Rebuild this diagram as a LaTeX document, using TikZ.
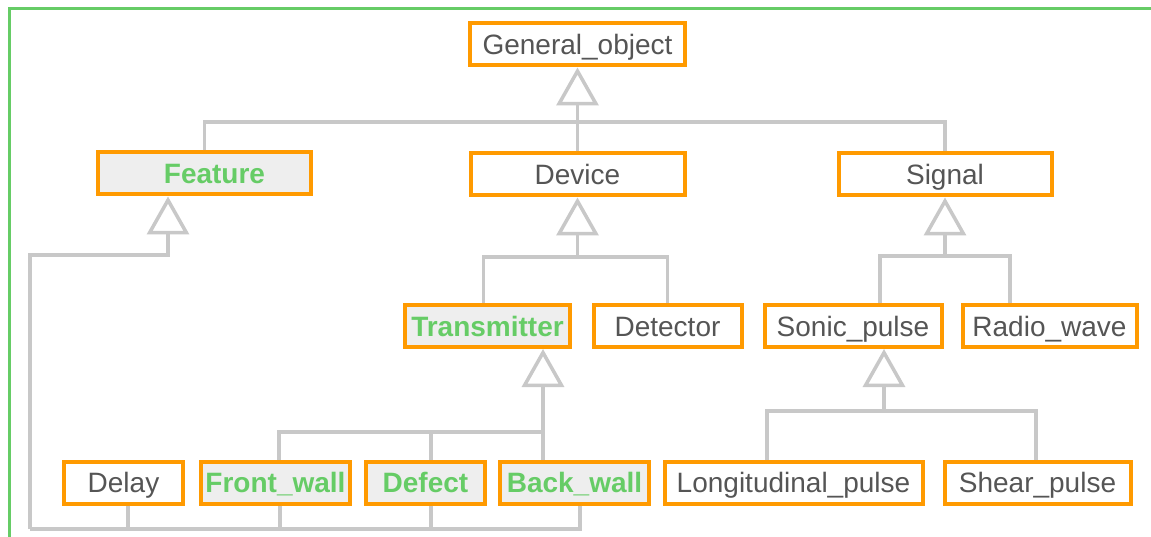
\documentclass[tikz,border=0pt]{standalone}
\usepackage{fontspec}
\setmainfont{Liberation Sans}
\usetikzlibrary{arrows.meta}
\definecolor{boxorange}{HTML}{FF9A00}
\definecolor{txtgray}{HTML}{555555}
\definecolor{featgreen}{HTML}{66CC66}
\definecolor{linegray}{HTML}{C8C8C8}
\definecolor{featfill}{HTML}{EEEEEE}
\definecolor{framegreen}{HTML}{66CC66}
\tikzset{
  cls/.style={draw=boxorange, line width=4pt, rectangle, inner sep=0pt,
    minimum height=42pt, fill=white, text=txtgray,
    font=\fontsize{28}{30}\selectfont, text height=20pt, text depth=0pt},
  feat/.style={cls, fill=featfill, text=featgreen, font=\fontsize{28}{30}\selectfont\bfseries},
  conn/.style={draw=linegray, line width=3.5pt},
  inh/.style={conn, -{Triangle[open, length=38pt, width=42pt, line join=miter]}},
}
\begin{document}
\begin{tikzpicture}[x=1pt, y=-1pt]
\useasboundingbox (0,0) rectangle (1151,537);
\fill[white] (0,0) rectangle (1151,537);
\draw[framegreen, line width=3pt] (9,540) -- (9,8.5) -- (1155,8.5);

% nodes
\node[cls, minimum width=215pt] (gen) at (577.5,44.5) {General\_object};
\node[feat, minimum width=213pt] (fea) at (204.5,173.5) {\hspace*{20pt}Feature};
\node[cls, minimum width=214pt] (dev) at (577.5,174.5) {Device};
\node[cls, minimum width=213pt] (sig) at (945,174.5) {Signal};
\node[feat, minimum width=165pt] (tra) at (487.5,326) {Transmitter};
\node[cls, minimum width=148pt] (det) at (667.5,326) {Detector};
\node[cls, minimum width=177pt] (son) at (853,326) {Sonic\_pulse};
\node[cls, minimum width=174pt] (rad) at (1049.5,326) {Radio\_wave};
\node[cls, minimum width=119pt] (del) at (123.5,482.5) {Delay};
\node[feat, minimum width=149pt] (fro) at (275.5,482.5) {Front\_wall};
\node[feat, minimum width=119pt] (dfc) at (425.5,482.5) {Defect};
\node[feat, minimum width=149pt] (bac) at (574.5,482.5) {Back\_wall};
\node[cls, minimum width=258pt] (lon) at (793.5,482.5) {Longitudinal\_pulse};
\node[cls, minimum width=186pt] (she) at (1037.5,482.5) {Shear\_pulse};

% junctions
\coordinate (j1) at (577.5,122);
\coordinate (j2) at (577.5,257);
\coordinate (j3) at (945,256);
\coordinate (j4) at (543,432);
\coordinate (j5) at (30,529);
\coordinate (j6) at (168,255);
\coordinate (j7) at (884,411);

% General_object
\draw[conn] (fea.north) |- (j1) -| (sig.north);
\draw[conn] (dev.north) -- (j1);
\draw[inh] (j1) -- (gen.south);

% Device
\draw[conn] ([xshift=-4pt]tra.north) |- (j2) -| (det.north);
\draw[inh] (j2) -- (dev.south);

% Signal
\draw[conn] ([xshift=27pt]son.north) |- (j3) -| ([xshift=-39.5pt]rad.north);
\draw[inh] (j3) -- (sig.south);

% Transmitter
\draw[conn] ([xshift=3.5pt]fro.north) |- (j4);
\draw[conn] ([xshift=5.5pt]dfc.north) |- (j4);
\draw[inh] ([xshift=-31.5pt]bac.north) -- ([xshift=55.5pt]tra.south);

% Sonic_pulse
\draw[conn] ([xshift=-26.5pt]lon.north) |- (j7) -| ([xshift=-1.5pt]she.north);
\draw[inh] (j7) -- ([xshift=31pt]son.south);

% Feature
\draw[conn] ([xshift=4.5pt]del.south) |- (j5);
\draw[conn] ([xshift=4.5pt]fro.south) |- (j5);
\draw[conn] ([xshift=5.5pt]dfc.south) |- (j5);
\draw[conn] ([xshift=5.5pt]bac.south) |- (j5);
\draw[inh] (j5) |- (j6) -- ([xshift=-36.5pt]fea.south);
\end{tikzpicture}
\end{document}
